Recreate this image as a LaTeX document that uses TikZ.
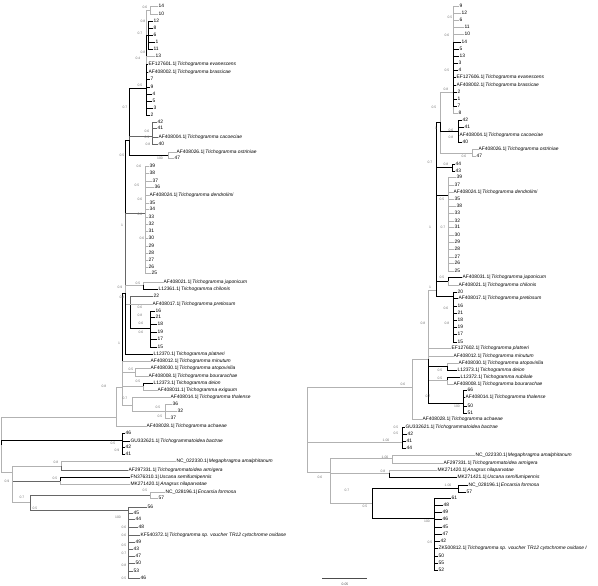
\documentclass[tikz,border=0pt]{standalone}
\usepackage{fontspec}
\setmainfont{Liberation Sans}
\newcommand{\taxon}[2]{#1|\,\textit{#2}}
\tikzset{
  leaf/.style={anchor=west, inner sep=0.4pt, font=\fontsize{4.9}{5}\selectfont},
  supp/.style={inner sep=0pt, font=\fontsize{3.4}{4}\selectfont, text=black!55},
  brk/.style={draw=black, line width=0.9pt},
  brg/.style={draw=black!60, line width=0.6pt},
  brl/.style={draw=black!30, line width=0.6pt},
}

\begin{document}
\begin{tikzpicture}[x=1pt, y=-1pt]
\useasboundingbox (0,0) rectangle (598,586);

% ---------- left tree ----------
\coordinate (lR) at (1,445);
\coordinate (lA) at (116,417);
\coordinate (lB) at (122,387);
\coordinate (lC1) at (125,293);
\coordinate (lU) at (129,140);
\coordinate (lV) at (146,88);
\coordinate (lT1) at (150,10);
\coordinate (lT2) at (148,35);
\coordinate (lW) at (152,136);
\coordinate (lX) at (168,155);
\coordinate (lE) at (145,213);
\coordinate (lF) at (143,285);
\coordinate (lG) at (130,304);
\coordinate (lG2) at (150,328);
\coordinate (lD) at (135,372);
\coordinate (lH) at (143,386);
\coordinate (lK) at (132,405);
\coordinate (lK2) at (165,411);
\coordinate (lGU) at (122,440);
\coordinate (lC) at (12,472);
\coordinate (lP1) at (61,466);
\coordinate (lP2) at (60,481);
\coordinate (lP3) at (30,502);
\coordinate (lP4) at (150,495);
\coordinate (lQ) at (128,510);

\draw[brl] (lR) |- (lA);
\draw[brl] (lR) |- (lC);
\draw[brk] (lR) |- (lGU);
\draw[brl] (lA) |- (lB);
\draw[brl] (lB) |- (lD);
\draw[brl] (lB) |- (lH);
\draw[brl] (lB) |- (lK);
\draw[brl] (lK) |- (lK2);
\draw[brk] (lB) |- (lC1);
\draw[brk] (lC1) |- (lU);
\draw[brl] (lV) |- (lT1);
\draw[brk] (lU) |- (lV);
\draw[brk] (lV) |- (lT2);
\draw[brg] (lU) |- (lW);
\draw[brk] (lU) |- (lX);
\draw[brg] (lC1) |- (lE);
\draw[brl] (lC1) |- (lF);
\draw[brl] (lC1) |- (lG);
\draw[brk] (lG) |- (lG2);
\draw[brl] (lC) |- (lP1);
\draw[brg] (lC) |- (lP2);
\draw[brl] (lC) |- (lP3);
\draw[brg] (lP3) |- (lP4);
\draw[brg] (lP3) |- (lQ);

% left leaves
\foreach \x/\y/\t [count=\i] in {158/6/14, 158/14/10}
  {\node[leaf] (lT1-\i) at (\x,\y) {\t}; \draw[brl] (lT1) |- (lT1-\i.west);}
\foreach \x/\y/\t [count=\i] in {153/21/12, 153/28/8, 153/35/6, 155/42/1, 153/49/11}
  {\node[leaf] (lT2-\i) at (\x,\y) {\t}; \draw[brk] (lT2) |- (lT2-\i.west);}
\node[leaf] (lV-0) at (155,56) {13};
\draw[brl] (lV) |- (lV-0.west);
\foreach \x/\y/\t [count=\i] in {148/64/{\taxon{EF127601.1}{Trichogramma evanescens}},
    148/72/{\taxon{AF408002.1}{Trichogramma brassicae}}, 150/79/7, 150/87/9,
    152/94/4, 152/101/5, 153/108/3, 150/115/2}
  {\node[leaf] (lV-\i) at (\x,\y) {\t}; \draw[brk] (lV) |- (lV-\i.west);}
\foreach \x/\y/\t [count=\i] in {157/122/42, 157/128/41,
    158/137/{\taxon{AF408004.1}{Trichogramma cacoeciae}}, 158/144/40}
  {\node[leaf] (lW-\i) at (\x,\y) {\t}; \draw[brg] (lW) |- (lW-\i.west);}
\foreach \x/\y/\t [count=\i] in {176/152/{\taxon{AF408026.1}{Trichogramma ostriniae}}, 174/158/47}
  {\node[leaf] (lX-\i) at (\x,\y) {\t}; \draw[brl] (lX) |- (lX-\i.west);}
\foreach \x/\y/\t [count=\i] in {149/166/39, 149/173/38, 152/181/37, 154/187/36,
    149/195/{\taxon{AF408024.1}{Trichogramma dendrolimi}}, 149/203/35, 149/209/34,
    148/217/33, 148/224/32, 148/231/31, 148/238/30, 148/246/29, 148/253/28,
    148/260/27, 148/267/26, 151/273/25}
  {\node[leaf] (lE-\i) at (\x,\y) {\t}; \draw[brl] (lE) |- (lE-\i.west);}
\node[leaf] (lF-1) at (163,282) {\taxon{AF408021.1}{Trichogramma japonicum}};
\node[leaf] (lF-2) at (158,289) {\taxon{L12361.1}{Trichogramma chilonis}};
\draw[brl] (lF) |- (lF-1.west);
\draw[brk] (lF) |- (lF-2.west);
\node[leaf] (lG-1) at (153,296) {22};
\node[leaf] (lG-2) at (152,304) {\taxon{AF408017.1}{Trichogramma pretiosum}};
\draw[brg] (lG) |- (lG-1.west);
\draw[brl] (lG) |- (lG-2.west);
\foreach \x/\y/\t [count=\i] in {155/311/16, 155/317/21, 157/324/18, 157/332/19, 157/339/17, 157/347/15}
  {\node[leaf] (lG2-\i) at (\x,\y) {\t}; \draw[brk] (lG2) |- (lG2-\i.west);}
\node[leaf] (lC1-1) at (153,354) {\taxon{L12370.1}{Trichogramma platneri}};
\draw[brk] (lC1) |- (lC1-1.west);
\node[leaf] (lB-1) at (150,361) {\taxon{AF408012.1}{Trichogramma minutum}};
\draw[brl] (lB) |- (lB-1.west);
\node[leaf] (lD-1) at (150,368) {\taxon{AF408030.1}{Trichogramma atopovirilia}};
\node[leaf] (lD-2) at (148,376) {\taxon{AF408008.1}{Trichogramma bourarachae}};
\draw[brl] (lD) |- (lD-1.west);
\draw[brl] (lD) |- (lD-2.west);
\node[leaf] (lH-1) at (153,383) {\taxon{L12373.1}{Trichogramma deion}};
\node[leaf] (lH-2) at (157,390) {\taxon{AF408011.1}{Trichogramma exiguum}};
\draw[brk] (lH) |- (lH-1.west);
\draw[brl] (lH) |- (lH-2.west);
\node[leaf] (lK-1) at (170,397) {\taxon{AF408014.1}{Trichogramma thalense}};
\draw[brl] (lK) |- (lK-1.west);
\foreach \x/\y/\t [count=\i] in {172/404/36, 177/411/32, 170/418/37}
  {\node[leaf] (lK2-\i) at (\x,\y) {\t}; \draw[brl] (lK2) |- (lK2-\i.west);}
\node[leaf] (lA-1) at (146,426) {\taxon{AF408028.1}{Trichogramma achaeae}};
\draw[brl] (lA) |- (lA-1.west);
\foreach \x/\y/\t [count=\i] in {125/433/46, 130/441/{\taxon{GU332621.1}{Trichogrammatoidea bactrae}},
    125/447/42, 125/454/41}
  {\node[leaf] (lGU-\i) at (\x,\y) {\t}; \draw[brk] (lGU) |- (lGU-\i.west);}
\node[leaf] (lP1-1) at (176,461) {\taxon{NC\_022330.1}{Megaphragma amalphitanum}};
\node[leaf] (lP1-2) at (128,470) {\taxon{AF297331.1}{Trichogrammatoidea armigera}};
\draw[brl] (lP1) |- (lP1-1.west);
\draw[brg] (lP1) |- (lP1-2.west);
\node[leaf] (lP2-1) at (130,477) {\taxon{FN376310.1}{Uscana semifumipennis}};
\node[leaf] (lP2-2) at (130,484) {\taxon{MK271420.1}{Anagrus nilaparvatae}};
\draw[brk] (lP2) |- (lP2-1.west);
\draw[brl] (lP2) |- (lP2-2.west);
\node[leaf] (lP4-1) at (165,492) {\taxon{NC\_028196.1}{Encarsia formosa}};
\node[leaf] (lP4-2) at (158,498) {57};
\draw[brl] (lP4) |- (lP4-1.west);
\draw[brl] (lP4) |- (lP4-2.west);
\foreach \x/\y/\t [count=\i] in {147/507/56, 133/513/45, 135/519/44, 138/527/48,
    140/535/{\taxon{KF540372.1}{Trichogramma sp. voucher TR12 cytochrome oxidase}},
    135/542/49, 133/549/43, 135/556/47, 135/563/50, 133/571/53, 140/578/46}
  {\node[leaf] (lQ-\i) at (\x,\y) {\t}; \draw[brg] (lQ) |- (lQ-\i.west);}

% left supports
\foreach \x/\y/\t [count=\i] in {145/7/0.6, 143/21/0.8, 140/33/0.7, 143/52/0.8, 138/58/0.4,
    140/85/0.5, 125/107/0.7, 147/131/0.6, 147/137/0.9, 148/144/0.8, 160/158/100,
    122/155/0.5, 139/166/0.6, 137/185/0.5, 140/199/0.6, 140/214/0.8, 122/225/1,
    142/238/0.6, 138/283/0.5, 120/287/0.9, 122/297/0.8, 140/307/0.6, 140/315/0.8,
    141/323/0.6, 141/332/0.6, 119/343/1, 131/369/0.5, 138/381/0.5, 104/386/0.8,
    125/398/0.7, 158/407/0.5, 160/416/0.5, 113/443/0.5, 117/450/0.9, 56/462/0.8,
    55/478/0.5, 7/481/0.9, 22/497/0.7, 35/508/0.5, 145/490/0.5, 118/517/100,
    124/527/0.6, 124/535/0.6, 124/545/0.5, 124/553/0.7, 124/565/0.8, 124/578/0.5}
  {\node[supp] (lS-\i) at (\x,\y) {\t};}

% ---------- right tree ----------
\coordinate (rR) at (307,442);
\coordinate (rM) at (412,387);
\coordinate (rN) at (428,359);
\coordinate (rB) at (436,290);
\coordinate (rC) at (440,122);
\coordinate (rT) at (453,92);
\coordinate (rW) at (458,131);
\coordinate (rX) at (472,153);
\coordinate (rP) at (452,167);
\coordinate (rE) at (448,195);
\coordinate (rF) at (448,281);
\coordinate (rG) at (453,296);
\coordinate (rD1) at (447,366);
\coordinate (rD2) at (447,380);
\coordinate (rK) at (463,403);
\coordinate (rGU) at (402,442);
\coordinate (rL) at (330,472);
\coordinate (rL1) at (392,458);
\coordinate (rL2) at (389,473);
\coordinate (rL3) at (372,503);
\coordinate (rL4) at (458,488);
\coordinate (rQ) at (434,518);

\draw[brl] (rR) |- (rM);
\draw[brl] (rR) |- (rGU);
\draw[brl] (rR) |- (rL);
\draw[brl] (rM) |- (rN);
\draw[brl] (rN) |- (rB);
\draw[brl] (rC) |- (rT);
\draw[brl] (rC) |- (rX);
\draw[brk] (rB) |- (rC);
\draw[brk] (rC) |- (rW);
\draw[brk] (rB) |- (rP);
\draw[brk] (rB) |- (rE);
\draw[brk] (rB) |- (rF);
\draw[brk] (rB) |- (rG);
\draw[brk] (rN) |- (rD1);
\draw[brl] (rN) |- (rD2);
\draw[brk] (rN) |- (rK);
\draw[brl] (rL) |- (rL1);
\draw[brl] (rL) |- (rL2);
\draw[brl] (rL) |- (rL3);
\draw[brk] (rL3) |- (rL4);
\draw[brk] (rL3) |- (rQ);

% right leaves
\foreach \x/\y/\t [count=\i] in {459/6/9, 461/13/12, 459/20/6, 464/27/11, 464/34/10,
    458/113/8}
  {\node[leaf] (rT-\i) at (\x,\y) {\t}; \draw[brl] (rT) |- (rT-\i.west);}
\foreach \x/\y/\t [count=\i] in {461/42/14, 459/49/5, 459/56/13, 458/63/3, 458/70/4,
    456/77/{\taxon{EF127606.1}{Trichogramma evanescens}},
    456/85/{\taxon{AF408002.1}{Trichogramma brassicae}}, 457/92/2, 457/99/1, 457/106/7}
  {\node[leaf] (rTb-\i) at (\x,\y) {\t}; \draw[brk] (rT) |- (rTb-\i.west);}
\foreach \x/\y/\t [count=\i] in {462/120/42, 464/127/41,
    459/135/{\taxon{AF408004.1}{Trichogramma cacoeciae}}, 462/142/40}
  {\node[leaf] (rW-\i) at (\x,\y) {\t}; \draw[brk] (rW) |- (rW-\i.west);}
\foreach \x/\y/\t [count=\i] in {478/149/{\taxon{AF408026.1}{Trichogramma ostriniae}}, 476/156/47}
  {\node[leaf] (rX-\i) at (\x,\y) {\t}; \draw[brl] (rX) |- (rX-\i.west);}
\foreach \x/\y/\t [count=\i] in {455/164/44, 455/171/43}
  {\node[leaf] (rP-\i) at (\x,\y) {\t}; \draw[brk] (rP) |- (rP-\i.west);}
\foreach \x/\y/\t [count=\i] in {456/177/39, 454/185/37,
    453/192/{\taxon{AF408024.1}{Trichogramma dendrolimi}}, 454/199/35, 456/206/38,
    454/213/33, 454/221/32, 454/227/31, 454/235/30, 454/242/29, 454/249/28,
    454/257/27, 454/263/26, 454/271/25}
  {\node[leaf] (rE-\i) at (\x,\y) {\t}; \draw[brl] (rE) |- (rE-\i.west);}
\node[leaf] (rF-1) at (462,277) {\taxon{AF408031.1}{Trichogramma japonicum}};
\node[leaf] (rF-2) at (458,285) {\taxon{AF408021.1}{Trichogramma chilonis}};
\draw[brk] (rF) |- (rF-1.west);
\draw[brl] (rF) |- (rF-2.west);
\foreach \x/\y/\t [count=\i] in {457/292/20, 458/298/{\taxon{AF408017.1}{Trichogramma pretiosum}},
    457/306/16, 457/313/21, 457/320/18, 457/327/19, 457/334/17, 457/342/15}
  {\node[leaf] (rG-\i) at (\x,\y) {\t}; \draw[brk] (rG) |- (rG-\i.west);}
\node[leaf] (rN-1) at (451,348) {\taxon{EF127602.1}{Trichogramma platneri}};
\node[leaf] (rN-2) at (453,356) {\taxon{AF408012.1}{Trichogramma minutum}};
\draw[brl] (rN) |- (rN-1.west);
\draw[brl] (rN) |- (rN-2.west);
\node[leaf] (rD1-1) at (458,363) {\taxon{AF408030.1}{Trichogramma atopovirilia}};
\node[leaf] (rD1-2) at (457,370) {\taxon{L12373.1}{Trichogramma deion}};
\draw[brl] (rD1) |- (rD1-1.west);
\draw[brk] (rD1) |- (rD1-2.west);
\node[leaf] (rD2-1) at (460,377) {\taxon{L12372.1}{Trichogramma nubilale}};
\node[leaf] (rD2-2) at (453,384) {\taxon{AF408008.1}{Trichogramma bourarachae}};
\draw[brk] (rD2) |- (rD2-1.west);
\draw[brl] (rD2) |- (rD2-2.west);
\foreach \x/\y/\t [count=\i] in {467/390/66, 465/397/{\taxon{AF408014.1}{Trichogramma thalense}},
    467/406/50, 467/413/51}
  {\node[leaf] (rK-\i) at (\x,\y) {\t}; \draw[brk] (rK) |- (rK-\i.west);}
\node[leaf] (rM-1) at (422,419) {\taxon{AF408028.1}{Trichogramma achaeae}};
\draw[brl] (rM) |- (rM-1.west);
\foreach \x/\y/\t [count=\i] in {405/427/{\taxon{GU332621.1}{Trichogrammatoidea bactrae}},
    407/434/42, 406/441/41, 406/448/44}
  {\node[leaf] (rGU-\i) at (\x,\y) {\t}; \draw[brk] (rGU) |- (rGU-\i.west);}
\node[leaf] (rL1-1) at (475,455) {\taxon{NC\_022330.1}{Megaphragma amalphitanum}};
\node[leaf] (rL1-2) at (443,463) {\taxon{AF297331.1}{Trichogrammatoidea armigera}};
\draw[brl] (rL1) |- (rL1-1.west);
\draw[brl] (rL1) |- (rL1-2.west);
\node[leaf] (rL2-1) at (437,470) {\taxon{MK271420.1}{Anagrus nilaparvatae}};
\node[leaf] (rL2-2) at (457,477) {\taxon{MK271421.1}{Uscana semifumipennis}};
\draw[brl] (rL2) |- (rL2-1.west);
\draw[brk] (rL2) |- (rL2-2.west);
\node[leaf] (rL4-1) at (468,485) {\taxon{NC\_028196.1}{Encarsia formosa}};
\node[leaf] (rL4-2) at (466,492) {57};
\draw[brk] (rL4) |- (rL4-1.west);
\draw[brk] (rL4) |- (rL4-2.west);
\foreach \x/\y/\t [count=\i] in {451/498/61, 443/505/48, 442/512/49, 442/519/46,
    442/527/45, 442/534/47, 440/541/42,
    438/548/{\taxon{ZK500812.1}{Trichogramma sp. voucher TR12 cytochrome oxidase I}},
    438/556/50, 438/563/55, 438/570/52}
  {\node[leaf] (rQ-\i) at (\x,\y) {\t}; \draw[brk] (rQ) |- (rQ-\i.west);}

% right supports
\foreach \x/\y/\t [count=\i] in {450/17/0.5, 447/35/0.6, 447/70/0.5, 446/89/0.8,
    434/107/0.5, 436/128/1, 451/130/0.6, 451/137/0.8, 464/156/0.6, 430/162/0.7,
    446/164/0.8, 442/199/0.5, 443/227/0.7, 430/227/1, 442/277/0.5, 430/287/1,
    446/308/0.6, 447/323/0.8, 423/323/0.8, 440/370/0.5, 440/378/0.5, 428/396/0.7,
    457/406/100, 403/384/0.6, 396/427/0.5, 396/433/0.5, 386/440/1.00, 385/457/1.00,
    383/471/0.8, 320/477/0.6, 347/490/0.7, 448/485/1.00, 365/506/0.5, 427/521/100,
    430/542/0.5}
  {\node[supp] (rS-\i) at (\x,\y) {\t};}

% scale bar
\coordinate (sbA) at (322,578);
\coordinate (sbB) at (367,578);
\draw[draw=black!70, line width=0.5pt] (sbA) -- (sbB);
\node[supp, text=black!70] (sbT) at (345,584) {0.05};
\end{tikzpicture}
\end{document}
